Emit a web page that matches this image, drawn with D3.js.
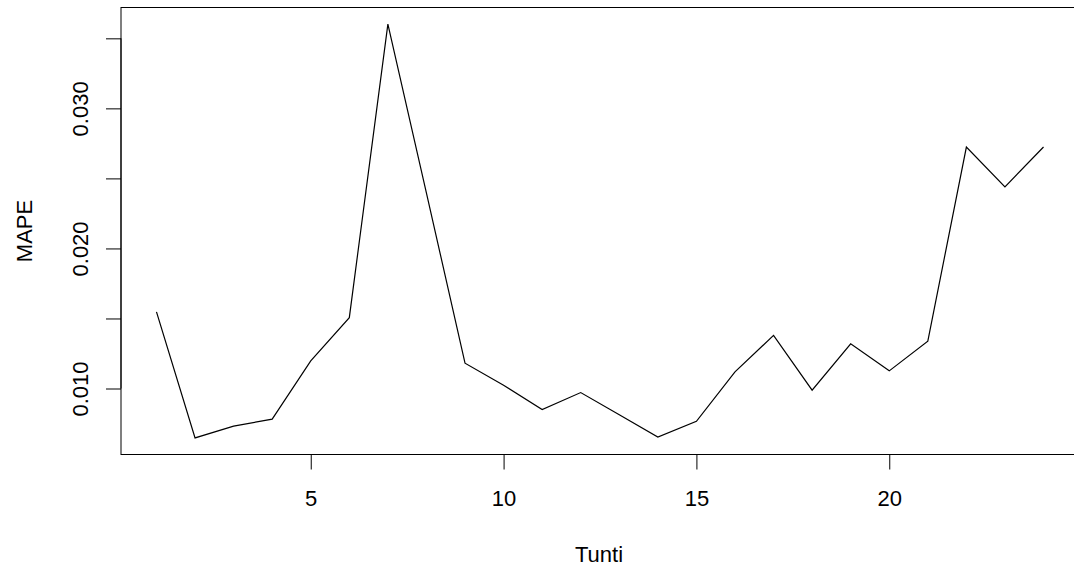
<!DOCTYPE html>
<html>
<head>
<meta charset="utf-8">
<script src="https://cdn.jsdelivr.net/npm/d3@7"></script>
<style>
  body { margin: 0; background: #fff; }
  svg { display: block; font-family: "Liberation Sans", Arial, sans-serif; }
</style>
</head>
<body>
<svg id="canvas" width="1074" height="566"></svg>
<script>
// hours 1..24 and MAPE per hour
const tunti = d3.range(1, 25);
const mape = [
  0.01547, 0.00647, 0.00731, 0.00781, 0.01197, 0.01506,
  0.03602, 0.02395, 0.01181, 0.01024, 0.00850, 0.00971,
  0.00813, 0.00654, 0.00766, 0.01119, 0.01379, 0.00988,
  0.01319, 0.01126, 0.01338, 0.02724, 0.02440, 0.02724
];
const xTicks = [5, 10, 15, 20];
const yTicks = [0.010, 0.015, 0.020, 0.025, 0.030, 0.035];
const yLabelled = [0.010, 0.020, 0.030];

const svg = d3.select("#canvas");

// plot region (right edge falls just outside the window, like the original)
const plotL = 121, plotR = 1079, plotT = 7.5, plotB = 454.5;
const fontSize = 22;

// R style 4% padding on both ends
function pad(ext) {
  const d = (ext[1] - ext[0]) * 0.04;
  return [ext[0] - d, ext[1] + d];
}

const x = d3.scaleLinear().domain(pad(d3.extent(tunti))).range([plotL, plotR]);
const y = d3.scaleLinear().domain(pad(d3.extent(mape))).range([plotB, plotT]);

// box
svg.append("rect")
  .attr("x", plotL).attr("y", plotT)
  .attr("width", plotR - plotL).attr("height", plotB - plotT)
  .attr("fill", "none").attr("stroke", "#000").attr("stroke-width", 1);

// x axis
const xAxis = svg.append("g")
  .attr("transform", `translate(0,${plotB})`)
  .call(d3.axisBottom(x).tickValues(xTicks).tickSize(15).tickSizeOuter(0).tickPadding(0));
xAxis.select(".domain")
  .attr("d", `M${x(xTicks[0])},0H${x(xTicks[xTicks.length - 1])}`);
xAxis.selectAll("text")
  .attr("y", 51).attr("dy", null)
  .attr("font-size", fontSize).attr("font-family", null).attr("fill", "#000");

// y axis
const yAxis = svg.append("g")
  .attr("transform", `translate(${plotL},0)`)
  .call(d3.axisLeft(y).tickValues(yTicks).tickSize(15).tickSizeOuter(0)
    .tickFormat(d => yLabelled.some(v => Math.abs(v - d) < 1e-9) ? d3.format(".3f")(d) : ""));
yAxis.select(".domain")
  .attr("d", `M0,${y(yTicks[0])}V${y(yTicks[yTicks.length - 1])}`);
yAxis.selectAll("text")
  .attr("x", null).attr("dy", null)
  .attr("transform", "translate(-33,0) rotate(-90)")
  .attr("text-anchor", "middle")
  .attr("font-size", fontSize).attr("font-family", null).attr("fill", "#000");

svg.selectAll(".tick line").attr("stroke", "#000");
svg.selectAll(".domain").attr("stroke", "#000");

// the series
const line = d3.line().x((d, i) => x(tunti[i])).y(d => y(d));
svg.append("path")
  .datum(mape)
  .attr("d", line)
  .attr("fill", "none")
  .attr("stroke", "#000")
  .attr("stroke-width", 1.2);

// titles
svg.append("text")
  .attr("x", (plotL + plotR) / 2 - 1).attr("y", 562)
  .attr("text-anchor", "middle")
  .attr("font-size", fontSize)
  .text("Tunti");

svg.append("text")
  .attr("transform", `translate(32,${(plotT + plotB) / 2}) rotate(-90)`)
  .attr("text-anchor", "middle")
  .attr("font-size", fontSize)
  .text("MAPE");
</script>
</body>
</html>
